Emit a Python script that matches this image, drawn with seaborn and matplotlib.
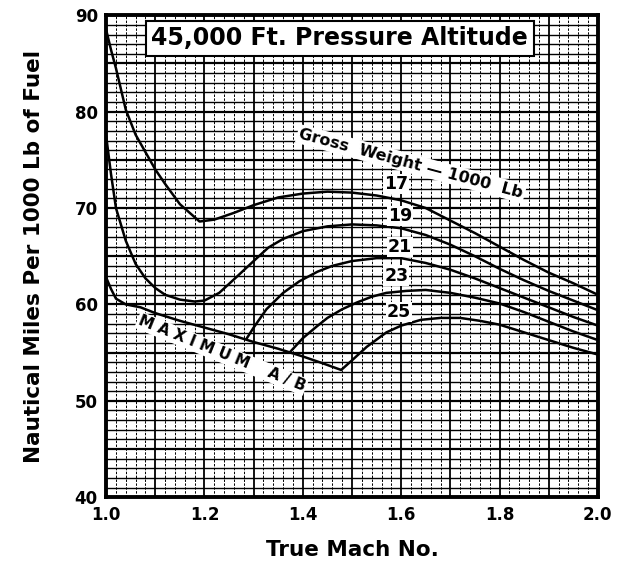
import numpy as np
import pandas as pd
import matplotlib
matplotlib.use("Agg")
import matplotlib.pyplot as plt
from matplotlib.ticker import MultipleLocator, FixedLocator
import seaborn as sns

# ---- data ----
mach_17 = [1.00, 1.01, 1.02, 1.04, 1.06, 1.08, 1.10, 1.12, 1.15, 1.19, 1.22, 1.26, 1.30,
           1.35, 1.40, 1.45, 1.50, 1.55, 1.60, 1.65, 1.70, 1.75, 1.80, 1.85, 1.90, 1.95, 2.00]
nm_17 = [88.5, 86.4, 84.5, 80.2, 77.6, 75.8, 74.0, 72.5, 70.4, 68.6, 68.8, 69.5, 70.3,
         71.1, 71.5, 71.7, 71.6, 71.3, 70.8, 70.0, 68.7, 67.4, 66.0, 64.6, 63.3, 62.2, 61.0]

mach_19 = [1.00, 1.01, 1.02, 1.04, 1.06, 1.08, 1.10, 1.12, 1.15, 1.18, 1.20, 1.23, 1.26,
           1.30, 1.33, 1.36, 1.40, 1.45, 1.50, 1.55, 1.60, 1.65, 1.70, 1.75, 1.80, 1.85,
           1.90, 1.95, 2.00]
nm_19 = [77.5, 73.5, 70.0, 66.6, 64.2, 62.7, 61.7, 61.0, 60.5, 60.3, 60.4, 61.2, 62.6,
         64.5, 65.9, 66.8, 67.6, 68.1, 68.3, 68.2, 67.9, 67.2, 66.2, 65.0, 63.7, 62.5,
         61.4, 60.4, 59.4]

mach_21 = [1.285, 1.30, 1.326, 1.36, 1.393, 1.43, 1.46, 1.50, 1.55, 1.60, 1.65, 1.70,
           1.75, 1.80, 1.85, 1.90, 1.95, 2.00]
nm_21 = [56.4, 57.6, 59.5, 61.2, 62.4, 63.4, 64.0, 64.5, 64.8, 64.8, 64.3, 63.6,
         62.7, 61.7, 60.7, 59.7, 58.7, 57.8]

mach_23 = [1.373, 1.40, 1.428, 1.45, 1.48, 1.51, 1.54, 1.57, 1.61, 1.65, 1.70, 1.75,
           1.80, 1.85, 1.90, 1.95, 2.00]
nm_23 = [55.0, 56.5, 57.7, 58.6, 59.5, 60.2, 60.8, 61.2, 61.4, 61.5, 61.2, 60.7,
         60.1, 59.2, 58.2, 57.2, 56.3]

mach_25 = [1.478, 1.50, 1.53, 1.57, 1.60, 1.64, 1.68, 1.72, 1.76, 1.80, 1.85, 1.90,
           1.95, 2.00]
nm_25 = [53.2, 54.2, 55.6, 57.1, 57.8, 58.4, 58.6, 58.6, 58.3, 57.9, 57.1, 56.3,
         55.5, 54.8]

mach_ab = [1.00, 1.01, 1.02, 1.04, 1.07, 1.10, 1.15, 1.20, 1.25, 1.30, 1.35, 1.40,
           1.44, 1.478]
nm_ab = [62.8, 61.6, 60.6, 60.0, 59.7, 59.1, 58.3, 57.6, 56.9, 56.1, 55.4, 54.6,
         53.9, 53.2]

weight_labels = ["17", "19", "21", "23", "25"]
weight_label_x = [1.59, 1.597, 1.597, 1.59, 1.595]
weight_label_y = [72.5, 69.2, 66.0, 63.0, 59.2]

x_ticks = [1.0, 1.2, 1.4, 1.6, 1.8, 2.0]
x_ticklabels = ["1.0", "1.2", "1.4", "1.6", "1.8", "2.0"]
y_ticks = [40, 50, 60, 70, 80, 90]

title = "45,000 Ft. Pressure Altitude"
xlabel = "True Mach No."
ylabel = "Nautical Miles Per 1000 Lb of Fuel"

# ---- build a tidy table ----
frames = []
for name, xs, ys in [("17", mach_17, nm_17), ("19", mach_19, nm_19),
                     ("21", mach_21, nm_21), ("23", mach_23, nm_23),
                     ("25", mach_25, nm_25), ("AB", mach_ab, nm_ab)]:
    frames.append(pd.DataFrame({"mach": xs, "nm": ys, "curve": name}))
df = pd.concat(frames, ignore_index=True)

sns.set_theme(style="white")
plt.rcParams["font.family"] = ["DejaVu Sans"]
plt.rcParams["text.color"] = "black"
plt.rcParams["axes.labelcolor"] = "black"
plt.rcParams["xtick.color"] = "black"
plt.rcParams["ytick.color"] = "black"

fig = plt.figure(figsize=(6.17, 5.65), dpi=100)
ax = fig.add_axes([0.172, 0.120, 0.797, 0.853])

# grid
ax.set_xlim(1.0, 2.0)
ax.set_ylim(40, 90)
ax.xaxis.set_major_locator(FixedLocator(x_ticks))
ax.xaxis.set_minor_locator(MultipleLocator(0.02))
ax.yaxis.set_major_locator(FixedLocator(y_ticks))
ax.yaxis.set_minor_locator(MultipleLocator(1))

for xv in np.arange(1.1, 2.0, 0.1):
    ax.axvline(xv, color="black", lw=1.3, zorder=1)
for xv in np.arange(1.02, 2.0, 0.02):
    if abs((xv * 10) - round(xv * 10)) > 1e-6:
        ax.axvline(xv, color="black", lw=0.7, ls=(0, (2.5, 1.5)), zorder=1)
for yv in range(41, 90):
    if yv % 5 == 0:
        ax.axhline(yv, color="black", lw=1.6, zorder=1)
    else:
        ax.axhline(yv, color="black", lw=1.0, zorder=1)

sns.lineplot(data=df, x="mach", y="nm", units="curve", estimator=None, sort=False,
             color="black", lw=1.8, ax=ax, zorder=3)

for spine in ax.spines.values():
    spine.set_linewidth(2.8)
    spine.set_color("black")
    spine.set_zorder(5)

ax.tick_params(axis="both", which="both", length=0, labelsize=12, pad=6,
               colors="black")
ax.set_xticklabels(x_ticklabels, fontweight="bold")
ax.set_yticklabels([str(v) for v in y_ticks], fontweight="bold")
ax.set_xlabel(xlabel, fontsize=15.5, fontweight="bold", labelpad=12, color="black")
ax.set_ylabel(ylabel, fontsize=15.5, fontweight="bold", labelpad=22, color="black")

# title box
ax.text(1.475, 87.6, title, fontsize=17, fontweight="bold", ha="center", va="center",
        zorder=6, color="black",
        bbox=dict(facecolor="white", edgecolor="black", lw=1.5, pad=4))

# annotations
ax.text(1.62, 74.6, "Gross  Weight — 1000  Lb", fontsize=11.5, fontweight="bold",
        rotation=-15, ha="center", va="center", zorder=6, color="black",
        bbox=dict(facecolor="white", edgecolor="none", pad=1.5))
ax.text(1.235, 54.9, "M A X I M U M    A / B", fontsize=11, fontweight="bold",
        rotation=-22, ha="center", va="center", zorder=6, color="black",
        bbox=dict(facecolor="white", edgecolor="none", pad=1.0))
for lab, lx, ly in zip(weight_labels, weight_label_x, weight_label_y):
    ax.text(lx, ly, lab, fontsize=12.5, fontweight="bold", ha="center", va="center",
            zorder=6, color="black",
            bbox=dict(facecolor="white", edgecolor="none", pad=0.8))

fig.savefig("out.png", dpi=100)
